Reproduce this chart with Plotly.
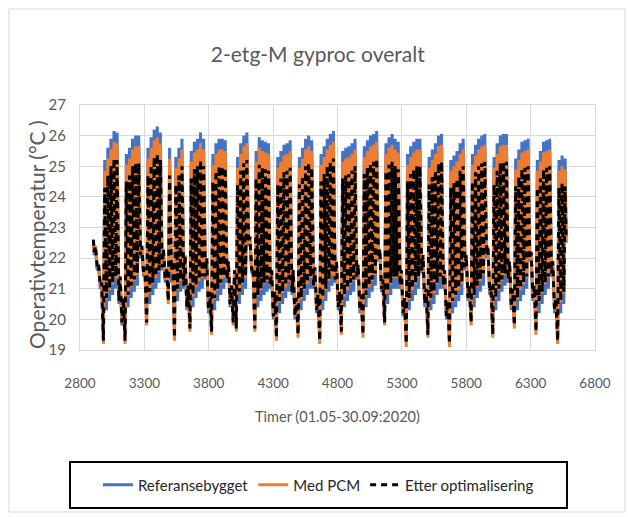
import plotly.graph_objects as go

# Hourly operative temperature, 01.05-30.09 2020 (hour-of-year 2904-6576).
# Each day is stored as its morning minimum and afternoon maximum.
# Rows: first row Fri-Sun (1-3 May), then whole weeks Mon-Sun, last row Mon-Wed.
START_HOUR = 2904
MIN_HOUR = 6
MAX_HOUR = 16

ref_min = [
    [22.1, 21.6, 21.0],
    [19.4, 20.3, 20.6, 20.8, 21.0, 20.5, 19.8],
    [19.4, 20.4, 20.7, 20.9, 21.1, 22.0, 21.4],
    [20.0, 20.5, 20.8, 21.0, 21.2, 21.6, 21.2],
    [20.7, 21.2, 19.5, 20.6, 20.9, 21.0, 20.3],
    [19.8, 20.4, 20.7, 20.9, 21.0, 21.3, 20.2],
    [19.7, 20.3, 20.6, 20.8, 21.0, 21.2, 20.4],
    [20.0, 19.8, 20.5, 20.8, 21.0, 22.4, 21.5],
    [19.8, 20.4, 20.6, 20.8, 20.9, 21.0, 20.0],
    [19.5, 20.2, 20.5, 20.7, 20.9, 20.8, 20.0],
    [19.6, 20.3, 20.6, 20.8, 21.0, 21.0, 20.2],
    [19.4, 20.3, 20.6, 20.9, 21.1, 21.2, 20.3],
    [19.7, 20.4, 20.6, 20.8, 20.9, 21.3, 20.2],
    [19.6, 20.4, 20.7, 20.9, 21.1, 21.9, 20.9],
    [20.0, 20.5, 20.8, 21.0, 21.0, 21.0, 20.1],
    [19.3, 20.3, 20.6, 20.8, 21.0, 21.5, 20.4],
    [19.6, 20.3, 20.5, 20.8, 21.0, 21.0, 20.0],
    [19.3, 20.2, 20.4, 20.6, 20.8, 21.6, 20.6],
    [20.0, 20.4, 20.7, 20.9, 21.1, 22.0, 20.8],
    [19.6, 20.3, 20.6, 20.9, 21.1, 21.2, 20.3],
    [19.9, 20.3, 20.6, 20.8, 21.0, 21.9, 20.6],
    [19.7, 20.2, 20.5, 20.8, 21.0, 21.4, 20.2],
    [19.4, 20.2, 20.5],
]
ref_max = [
    [22.3, 21.7, 21.1],
    [25.2, 25.6, 25.9, 26.15, 26.1, 21.3, 20.6],
    [25.4, 25.6, 25.9, 26.0, 26.0, 22.3, 21.6],
    [25.6, 25.95, 26.2, 26.3, 26.1, 22.2, 21.6],
    [25.6, 21.8, 25.3, 25.6, 25.9, 22.0, 21.0],
    [25.5, 25.8, 25.9, 26.1, 25.9, 21.9, 20.8],
    [25.4, 25.75, 25.9, 25.9, 25.85, 21.8, 21.0],
    [21.5, 25.3, 25.75, 26.0, 26.1, 22.6, 21.6],
    [25.5, 25.95, 25.85, 25.8, 25.75, 21.5, 20.8],
    [25.3, 25.5, 25.7, 25.75, 25.85, 21.5, 20.6],
    [25.3, 25.6, 25.9, 26.0, 25.85, 21.6, 20.7],
    [25.4, 25.65, 25.9, 26.05, 26.15, 21.8, 20.8],
    [25.5, 25.6, 25.65, 25.75, 25.9, 21.7, 20.7],
    [25.65, 25.85, 26.0, 26.05, 26.15, 22.2, 21.2],
    [25.75, 25.95, 26.05, 25.9, 25.8, 21.5, 20.6],
    [25.4, 25.65, 25.8, 25.9, 25.9, 22.0, 20.9],
    [25.3, 25.55, 25.75, 26.0, 26.05, 21.5, 20.5],
    [25.2, 25.35, 25.5, 25.75, 25.9, 22.0, 21.0],
    [25.4, 25.7, 25.9, 26.0, 26.05, 22.3, 21.0],
    [25.3, 25.75, 26.0, 26.05, 26.05, 21.8, 20.9],
    [25.25, 25.55, 25.8, 25.85, 25.9, 22.1, 21.0],
    [25.2, 25.5, 25.8, 25.85, 25.9, 21.8, 20.6],
    [25.2, 25.35, 25.25],
]
ref_first, ref_last = 22.6, 22.5

pcm_min = [
    [22.2, 21.7, 21.1],
    [19.2, 20.65, 20.95, 21.15, 21.35, 20.6, 19.9],
    [19.2, 20.75, 21.05, 21.25, 21.45, 22.1, 21.5],
    [19.8, 20.85, 21.15, 21.35, 21.55, 21.7, 21.3],
    [20.5, 21.55, 19.3, 20.95, 21.25, 21.1, 20.4],
    [19.6, 20.75, 21.05, 21.25, 21.35, 21.4, 20.3],
    [19.5, 20.65, 20.95, 21.15, 21.35, 21.3, 20.5],
    [19.8, 19.6, 20.85, 21.15, 21.35, 22.5, 21.6],
    [19.6, 20.75, 20.95, 21.15, 21.25, 21.1, 20.1],
    [19.3, 20.55, 20.85, 21.05, 21.25, 20.9, 20.1],
    [19.4, 20.65, 20.95, 21.15, 21.35, 21.1, 20.3],
    [19.2, 20.65, 20.95, 21.25, 21.45, 21.3, 20.4],
    [19.5, 20.75, 20.95, 21.15, 21.25, 21.4, 20.3],
    [19.4, 20.75, 21.05, 21.25, 21.45, 22.0, 21.0],
    [19.8, 20.85, 21.15, 21.35, 21.35, 21.1, 20.2],
    [19.1, 20.65, 20.95, 21.15, 21.35, 21.6, 20.5],
    [19.4, 20.65, 20.85, 21.15, 21.35, 21.1, 20.1],
    [19.1, 20.55, 20.75, 20.95, 21.15, 21.7, 20.7],
    [19.8, 20.75, 21.05, 21.25, 21.45, 22.1, 20.9],
    [19.4, 20.65, 20.95, 21.25, 21.45, 21.3, 20.4],
    [19.7, 20.65, 20.95, 21.15, 21.35, 22.0, 20.7],
    [19.5, 20.55, 20.85, 21.15, 21.35, 21.5, 20.3],
    [19.2, 20.55, 20.85],
]
pcm_max = [
    [22.4, 21.8, 21.2],
    [24.85, 25.25, 25.55, 25.8, 25.75, 21.4, 20.7],
    [25.05, 25.25, 25.55, 25.65, 25.65, 22.4, 21.7],
    [25.25, 25.6, 25.85, 25.95, 25.75, 22.3, 21.7],
    [25.25, 21.9, 24.95, 25.25, 25.55, 22.1, 21.1],
    [25.15, 25.45, 25.55, 25.75, 25.55, 22.0, 20.9],
    [25.05, 25.4, 25.55, 25.55, 25.5, 21.9, 21.1],
    [21.6, 24.95, 25.4, 25.65, 25.75, 22.7, 21.7],
    [25.15, 25.6, 25.5, 25.45, 25.4, 21.6, 20.9],
    [24.95, 25.15, 25.35, 25.4, 25.5, 21.6, 20.7],
    [24.95, 25.25, 25.55, 25.65, 25.5, 21.7, 20.8],
    [25.05, 25.3, 25.55, 25.7, 25.8, 21.9, 20.9],
    [25.15, 25.25, 25.3, 25.4, 25.55, 21.8, 20.8],
    [25.3, 25.5, 25.65, 25.7, 25.8, 22.3, 21.3],
    [25.4, 25.6, 25.7, 25.55, 25.45, 21.6, 20.7],
    [25.05, 25.3, 25.45, 25.55, 25.55, 22.1, 21.0],
    [24.95, 25.2, 25.4, 25.65, 25.7, 21.6, 20.6],
    [24.85, 25.0, 25.15, 25.4, 25.55, 22.1, 21.1],
    [25.05, 25.35, 25.55, 25.65, 25.7, 22.4, 21.1],
    [24.95, 25.4, 25.65, 25.7, 25.7, 21.9, 21.0],
    [24.9, 25.2, 25.45, 25.5, 25.55, 22.2, 21.1],
    [24.85, 25.15, 25.45, 25.5, 25.55, 21.9, 20.7],
    [24.85, 25.0, 24.9],
]
pcm_first, pcm_last = 22.6, 22.6

opt_min = [
    [22.2, 21.7, 21.1],
    [19.3, 20.7, 21.0, 21.2, 21.4, 20.6, 19.9],
    [19.3, 20.8, 21.1, 21.3, 21.5, 22.1, 21.5],
    [19.9, 20.9, 21.2, 21.4, 21.6, 21.7, 21.3],
    [20.6, 21.6, 19.4, 21.0, 21.3, 21.1, 20.4],
    [19.7, 20.8, 21.1, 21.3, 21.4, 21.4, 20.3],
    [19.6, 20.7, 21.0, 21.2, 21.4, 21.3, 20.5],
    [19.9, 19.7, 20.9, 21.2, 21.4, 22.5, 21.6],
    [19.7, 20.8, 21.0, 21.2, 21.3, 21.1, 20.1],
    [19.4, 20.6, 20.9, 21.1, 21.3, 20.9, 20.1],
    [19.5, 20.7, 21.0, 21.2, 21.4, 21.1, 20.3],
    [19.3, 20.7, 21.0, 21.3, 21.5, 21.3, 20.4],
    [19.6, 20.8, 21.0, 21.2, 21.3, 21.4, 20.3],
    [19.5, 20.8, 21.1, 21.3, 21.5, 22.0, 21.0],
    [19.9, 20.9, 21.2, 21.4, 21.4, 21.1, 20.2],
    [19.2, 20.7, 21.0, 21.2, 21.4, 21.6, 20.5],
    [19.5, 20.7, 20.9, 21.2, 21.4, 21.1, 20.1],
    [19.2, 20.6, 20.8, 21.0, 21.2, 21.7, 20.7],
    [19.9, 20.8, 21.1, 21.3, 21.5, 22.1, 20.9],
    [19.5, 20.7, 21.0, 21.3, 21.5, 21.3, 20.4],
    [19.8, 20.7, 21.0, 21.2, 21.4, 22.0, 20.7],
    [19.6, 20.6, 20.9, 21.2, 21.4, 21.5, 20.3],
    [19.3, 20.6, 20.9],
]
opt_max = [
    [22.4, 21.8, 21.2],
    [24.3, 24.7, 25.0, 25.25, 25.2, 21.4, 20.7],
    [24.5, 24.7, 25.0, 25.1, 25.1, 22.4, 21.7],
    [24.7, 25.05, 25.3, 25.4, 25.2, 22.3, 21.7],
    [24.7, 21.9, 24.4, 24.7, 25.0, 22.1, 21.1],
    [24.6, 24.9, 25.0, 25.2, 25.0, 22.0, 20.9],
    [24.5, 24.85, 25.0, 25.0, 24.95, 21.9, 21.1],
    [21.6, 24.4, 24.85, 25.1, 25.2, 22.7, 21.7],
    [24.6, 25.05, 24.95, 24.9, 24.85, 21.6, 20.9],
    [24.4, 24.6, 24.8, 24.85, 24.95, 21.6, 20.7],
    [24.4, 24.7, 25.0, 25.1, 24.95, 21.7, 20.8],
    [24.5, 24.75, 25.0, 25.15, 25.25, 21.9, 20.9],
    [24.6, 24.7, 24.75, 24.85, 25.0, 21.8, 20.8],
    [24.75, 24.95, 25.1, 25.15, 25.25, 22.3, 21.3],
    [24.85, 25.05, 25.15, 25.0, 24.9, 21.6, 20.7],
    [24.5, 24.75, 24.9, 25.0, 25.0, 22.1, 21.0],
    [24.4, 24.65, 24.85, 25.1, 25.15, 21.6, 20.6],
    [24.3, 24.45, 24.6, 24.85, 25.0, 22.1, 21.1],
    [24.5, 24.8, 25.0, 25.1, 25.15, 22.4, 21.1],
    [24.4, 24.85, 25.1, 25.15, 25.15, 21.9, 21.0],
    [24.35, 24.65, 24.9, 24.95, 25.0, 22.2, 21.1],
    [24.3, 24.6, 24.9, 24.95, 25.0, 21.9, 20.7],
    [24.3, 24.45, 24.35],
]
opt_first, opt_last = 22.6, 22.6

x_ticks = [2800, 3300, 3800, 4300, 4800, 5300, 5800, 6300, 6800]
y_ticks = [19, 20, 21, 22, 23, 24, 25, 26, 27]


def daily_curve(mins, maxs, first, last):
    lo = [v for row in mins for v in row]
    hi = [v for row in maxs for v in row]
    xs, ys = [START_HOUR], [first]
    for day, (a, b) in enumerate(zip(lo, hi)):
        base = START_HOUR + 24 * day
        xs += [base + MIN_HOUR, base + MAX_HOUR]
        ys += [a, b]
    xs.append(START_HOUR + 24 * len(lo))
    ys.append(last)
    return xs, ys


FONT = "Lato, Roboto, sans-serif"
GREY = "#595959"

fig = go.Figure()
for name, mins, maxs, first, last, color, dash in [
    ("Referansebygget", ref_min, ref_max, ref_first, ref_last, "#4472C4", "solid"),
    ("Med PCM", pcm_min, pcm_max, pcm_first, pcm_last, "#ED7D31", "solid"),
    ("Etter optimalisering", opt_min, opt_max, opt_first, opt_last, "#000000", "6px,5px"),
]:
    xs, ys = daily_curve(mins, maxs, first, last)
    fig.add_trace(go.Scatter(x=xs, y=ys, mode="lines", name=name,
                             line=dict(color=color, width=3, dash=dash)))

fig.update_layout(
    width=628, height=517,
    margin=dict(l=80, r=33, t=105, b=167),
    paper_bgcolor="white", plot_bgcolor="white",
    title=dict(text="2-etg-M gyproc overalt", x=0.506, xanchor="center",
               y=0.894, yanchor="middle", xref="container", yref="container",
               font=dict(family=FONT, size=21, color=GREY)),
    showlegend=True,
    legend=dict(orientation="h", x=0.463, xanchor="center", y=-0.551, yanchor="middle",
                bgcolor="rgba(0,0,0,0)", font=dict(family=FONT, size=15, color="#262626")),
    shapes=[
        dict(type="rect", xref="paper", yref="paper", x0=-0.1379, x1=1.0583,
             y0=-0.6612, y1=1.3918, line=dict(color="#d9d9d9", width=1)),
        dict(type="rect", xref="paper", yref="paper", x0=-0.0194, x1=0.9456,
             y0=-0.6449, y1=-0.4571, line=dict(color="#000000", width=2)),
    ],
    annotations=[
        dict(text="Operativtemperatur (°C )", textangle=-90, xref="paper", yref="paper",
             x=-0.0835, y=0.4735, xanchor="center", yanchor="middle", showarrow=False,
             font=dict(family=FONT, size=21, color=GREY)),
    ],
)
fig.update_xaxes(range=[2800, 6800], tickvals=x_ticks, ticktext=[str(v) for v in x_ticks],
                 showgrid=True, gridcolor="#d9d9d9", gridwidth=1, zeroline=False,
                 showline=True, linecolor="#d9d9d9", mirror=True,
                 ticklabelstandoff=21,
                 tickfont=dict(family=FONT, size=13.5, color=GREY),
                 title=dict(text="Timer (01.05-30.09:2020)", standoff=21,
                            font=dict(family=FONT, size=14.5, color=GREY)))
fig.update_yaxes(range=[19, 27], tickvals=y_ticks, ticktext=[str(v) for v in y_ticks],
                 showgrid=True, gridcolor="#d9d9d9", gridwidth=1, zeroline=False,
                 showline=True, linecolor="#d9d9d9", mirror=True,
                 ticklabelstandoff=10,
                 tickfont=dict(family=FONT, size=15, color=GREY))

fig.write_html("out.html")
